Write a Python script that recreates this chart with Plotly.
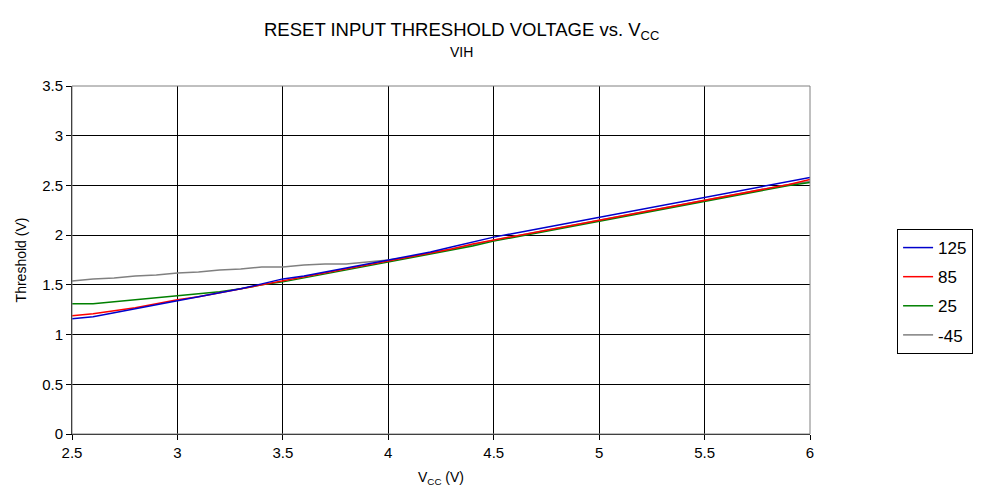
import plotly.graph_objects as go

vcc = [2.5, 2.6, 2.7, 2.8, 2.9, 3.0, 3.1, 3.2, 3.3, 3.4, 3.5, 3.6, 3.7, 3.8, 3.9, 4.0,
       4.1, 4.2, 4.3, 4.4, 4.5, 4.6, 4.7, 4.8, 4.9, 5.0, 5.1, 5.2, 5.3, 5.4, 5.5,
       5.6, 5.7, 5.8, 5.9, 6.0]

t125 = [1.16, 1.18, 1.22, 1.26, 1.30, 1.34, 1.38, 1.42, 1.46, 1.51, 1.56, 1.59, 1.63, 1.67,
        1.71, 1.75, 1.79, 1.83, 1.88, 1.93, 1.98, 2.02, 2.06, 2.10, 2.14, 2.18, 2.22, 2.26,
        2.30, 2.34, 2.38, 2.42, 2.46, 2.50, 2.54, 2.58]
t85 = [1.19, 1.21, 1.24, 1.27, 1.31, 1.35, 1.38, 1.42, 1.46, 1.50, 1.54, 1.58, 1.62, 1.66,
       1.70, 1.74, 1.78, 1.82, 1.86, 1.91, 1.95, 1.99, 2.03, 2.07, 2.11, 2.15, 2.19, 2.23,
       2.27, 2.31, 2.35, 2.39, 2.43, 2.47, 2.51, 2.56]
t25 = [1.31, 1.31, 1.33, 1.35, 1.37, 1.39, 1.41, 1.43, 1.46, 1.50, 1.53, 1.57, 1.61, 1.65,
       1.69, 1.73, 1.77, 1.81, 1.85, 1.89, 1.94, 1.98, 2.02, 2.06, 2.10, 2.14, 2.18, 2.22,
       2.26, 2.30, 2.34, 2.38, 2.42, 2.46, 2.50, 2.53]
tm45 = [1.54, 1.56, 1.57, 1.59, 1.60, 1.62, 1.63, 1.65, 1.66, 1.68, 1.68, 1.70, 1.71, 1.71,
        1.73, 1.75, 1.78, 1.82, 1.86, 1.90, 1.95, 1.99, 2.03, 2.07, 2.11, 2.15, 2.19, 2.23,
        2.27, 2.31, 2.35, 2.39, 2.43, 2.47, 2.51, 2.54]

series = [("-45", tm45, "#808080", 4), ("25", t25, "#008000", 3),
          ("85", t85, "#FF0000", 2), ("125", t125, "#0000CC", 1)]

x_ticks = [2.5, 3, 3.5, 4, 4.5, 5, 5.5, 6]
y_ticks = [0, 0.5, 1, 1.5, 2, 2.5, 3, 3.5]

FONT = "Liberation Sans, Arial, sans-serif"

fig = go.Figure()
for name, vals, color, rank in series:
    fig.add_trace(go.Scatter(x=vcc, y=vals, mode="lines", name=name,
                             legendgroup=name, legendrank=rank,
                             line=dict(color=color, width=1.5)))

fig.update_layout(
    width=978, height=492,
    margin=dict(l=64, r=176, t=78, b=66),
    paper_bgcolor="white", plot_bgcolor="white",
    font=dict(family=FONT, size=15, color="black"),
    showlegend=True,
    legend=dict(x=1.118, y=0.589, xanchor="left", yanchor="top",
                bordercolor="black", borderwidth=1, bgcolor="white",
                font=dict(size=17), tracegroupgap=4, itemwidth=30),
    xaxis=dict(range=[2.5, 6], tickvals=x_ticks, ticktext=[str(v) for v in x_ticks],
               showgrid=True, gridcolor="black", gridwidth=1,
               showline=True, linecolor="black", linewidth=1,
               ticks="outside", ticklen=5, tickcolor="black",
               zeroline=False,
               title=dict(text="V<sub>CC</sub> (V)", font=dict(size=14), standoff=12)),
    yaxis=dict(range=[0, 3.5], tickvals=y_ticks, ticktext=[str(v) for v in y_ticks],
               showgrid=True, gridcolor="black", gridwidth=1,
               showline=True, linecolor="black", linewidth=1,
               ticks="outside", ticklen=5, tickcolor="black",
               zeroline=False,
               title=dict(text="Threshold (V)", font=dict(size=14), standoff=12)),
    shapes=[dict(type="rect", xref="paper", yref="paper", x0=0, y0=0, x1=1, y1=1,
                 line=dict(color="#808080", width=1), layer="above")],
    annotations=[
        dict(text="RESET INPUT THRESHOLD VOLTAGE vs. V<sub>CC</sub>", xref="paper", yref="paper",
             x=0.528, y=1.0, yshift=69, showarrow=False, font=dict(size=18.5)),
        dict(text="VIH", xref="paper", yref="paper",
             x=0.528, y=1.0, yshift=44, showarrow=False, font=dict(size=14)),
    ],
)

fig.write_html("out.html")
